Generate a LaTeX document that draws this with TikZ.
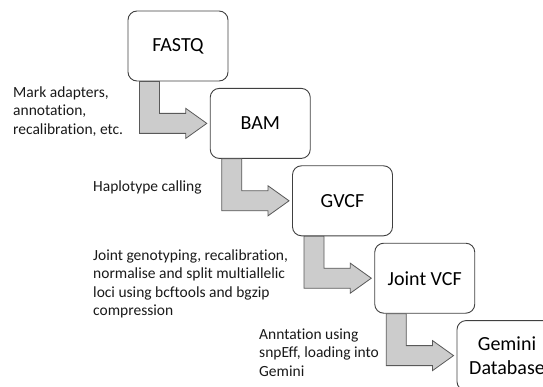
\documentclass[tikz,border=0pt]{standalone}
\usepackage{fontspec}
\setmainfont{Carlito}[Ligatures=NoCommon]
\tikzset{
	stage/.style={draw=black!75, rounded corners=9pt, line width=0.9pt, minimum width=100pt, minimum height=70pt, align=center, font=\fontsize{20}{24}\selectfont},
	flow/.style={draw=black!65, fill=black!20, line width=0.8pt, line join=miter},
	note/.style={align=left, inner sep=0pt, text=black!90, font=\fontsize{15.5}{18.5}\selectfont}
}
\begin{document}
\begin{tikzpicture}[x=1pt,y=1pt]
			\useasboundingbox (0,0) rectangle (543,386);
			\clip (0,0) rectangle (543,386);
			\node[stage] (fastq) at (178,340) {FASTQ};
			\node[stage] (bam) at (260.25,262.6) {BAM};
			\node[stage] (gvcf) at (342.5,185.2) {GVCF};
			\node[stage] (jvcf) at (424.75,107.8) {Joint VCF};
			\node[stage] (gemini) at (507,30.4) {Gemini\\Database};
			\foreach \a/\b in {fastq/bam, bam/gvcf, gvcf/jvcf, jvcf/gemini}
				\draw[flow] ([xshift=12pt]\a.south west) |- ([xshift=-24pt,yshift=-10pt]\b.west)
					-- ([xshift=-24pt,yshift=-15pt]\b.west) -- ([xshift=-3pt]\b.west)
					-- ([xshift=-24pt,yshift=15pt]\b.west) -- ([xshift=-24pt,yshift=10pt]\b.west)
					-| ([xshift=32pt]\a.south west) -- cycle;
			\node[note, anchor=north west] (adapt) at (13,299.5) {Mark adapters,\\annotation,\\recalibration, etc.};
			\node[note, anchor=base west] (haplo) at (93,194) {Haplotype calling};
			\node[note, anchor=north west] (joint) at (93,136.5) {Joint genotyping, recalibration,\\normalise and split multiallelic\\loci using bcftools and bgzip\\compression};
			\node[note, anchor=north west] (annot) at (259,57.5) {Anntation using\\snpEff, loading into\\Gemini};
		\end{tikzpicture}
\end{document}
